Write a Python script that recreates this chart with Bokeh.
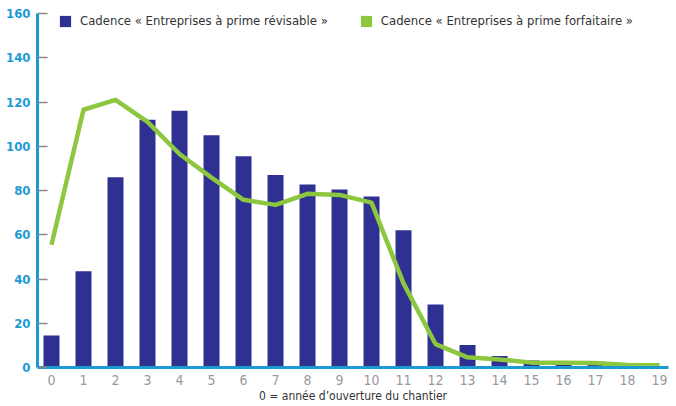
from bokeh.plotting import figure
from bokeh.models import Range1d, FixedTicker, Legend, LegendItem, ColumnDataSource
from bokeh.embed import file_html
from bokeh.resources import INLINE

years = list(range(20))
year_labels = [str(y) for y in years]
revisable = [14.5, 43.5, 86, 112, 116, 105, 95.5, 87, 82.7, 80.5, 77.3, 62, 28.5, 10.2, 5.2, 3.2, 1.4, 1.4, 0.8, 0.2]
forfaitaire = [55.5, 116.5, 121, 111, 96.5, 85.8, 75.8, 73.5, 78.5, 78, 74.5, 38, 10.6, 4.6, 3.6, 2.2, 2.1, 2.0, 1.1, 1.0]
y_ticks = [0, 20, 40, 60, 80, 100, 120, 140, 160]
name_rev = "Cadence « Entreprises à prime révisable »"
name_forf = "Cadence « Entreprises à prime forfaitaire »"
x_title = "0 = année d’ouverture du chantier"

BLUE_BAR = "#2e3192"
GREEN = "#8dc63f"
AXIS_BLUE = "#1b9ad6"
FONT = "DejaVu Sans Condensed"

src = ColumnDataSource(dict(x=years, rev=revisable, forf=forfaitaire, zero=[0] * len(years)))

p = figure(width=676, height=406, output_backend="svg", toolbar_location=None,
           x_range=Range1d(-0.4375, 19.28), y_range=Range1d(0, 160),
           min_border_left=37, min_border_right=8, min_border_top=13, min_border_bottom=39)
p.outline_line_color = None
p.grid.grid_line_color = None
p.background_fill_color = "white"

bars = p.vbar(x="x", top="rev", width=0.5, source=src, fill_color=BLUE_BAR, line_color=None)
line = p.line(x="x", y="forf", source=src, line_color=GREEN, line_width=4.5, line_join="round")
# legend swatch for the line series (zero-height bars: nothing drawn in the plot)
proxy = p.vbar(x="x", top="zero", bottom="zero", width=0.5, source=src, fill_color=GREEN, line_color=None)

# y axis
ya = p.yaxis[0]
ya.ticker = FixedTicker(ticks=y_ticks)
ya.axis_line_color = AXIS_BLUE
ya.axis_line_width = 3
ya.major_tick_line_color = "#888888"
ya.major_tick_line_width = 1.5
ya.major_tick_in = 10
ya.major_tick_out = 0
ya.minor_tick_line_color = None
ya.major_label_text_color = AXIS_BLUE
ya.major_label_text_font = FONT
ya.major_label_text_font_style = "bold"
ya.major_label_text_font_size = "13px"
ya.major_label_standoff = 7

# x axis
xa = p.xaxis[0]
xa.ticker = FixedTicker(ticks=years)
xa.major_label_overrides = {y: l for y, l in zip(years, year_labels)}
xa.axis_line_color = AXIS_BLUE
xa.axis_line_width = 3
xa.major_tick_line_color = None
xa.minor_tick_line_color = None
xa.major_tick_in = 0
xa.major_tick_out = 0
xa.major_label_text_color = "#9a9a9a"
xa.major_label_text_font = FONT
xa.major_label_text_font_size = "14px"
xa.major_label_standoff = 7
xa.axis_label = x_title
xa.axis_label_text_font = FONT
xa.axis_label_text_font_style = "normal"
xa.axis_label_text_font_size = "12px"
xa.axis_label_text_color = "#333333"
xa.axis_label_standoff = 1

legend = Legend(items=[LegendItem(label=name_rev, renderers=[bars]),
                       LegendItem(label=name_forf, renderers=[proxy])],
                orientation="horizontal", location=(21, 339),
                glyph_width=14, glyph_height=14, label_height=14,
                label_standoff=8, spacing=31, padding=0, margin=0,
                label_text_font=FONT, label_text_font_size="13px",
                label_text_color="#333333", label_text_baseline="middle",
                background_fill_alpha=0, border_line_color=None)
p.add_layout(legend)

open("out.html", "w").write(file_html(p, INLINE))
